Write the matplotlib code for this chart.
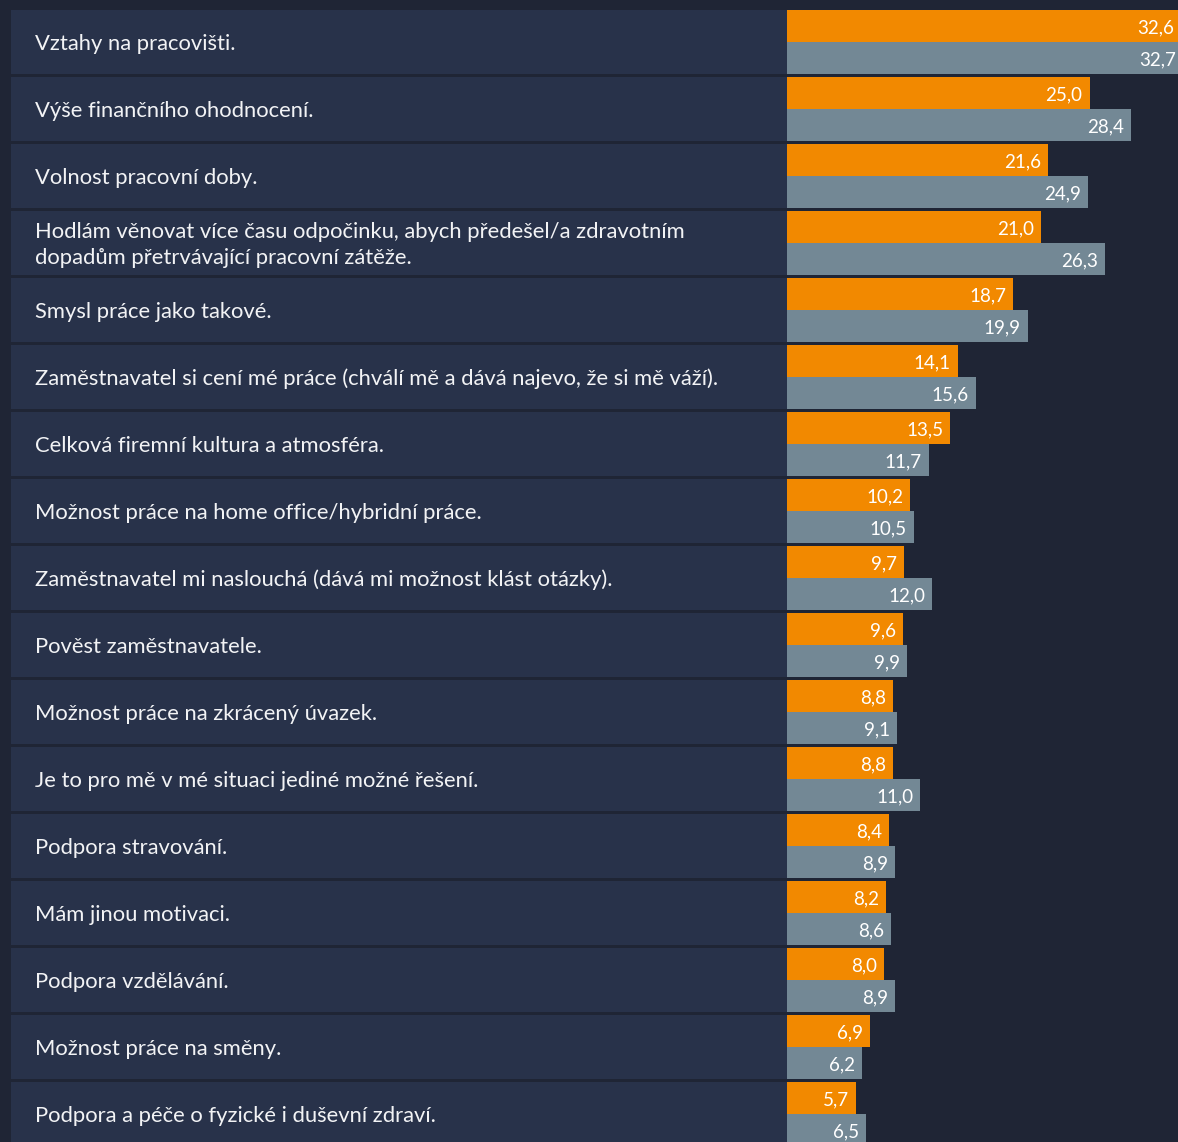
import matplotlib
matplotlib.use("Agg")
import matplotlib.pyplot as plt
import numpy as np

# ---------------------------------------------------------
# data
# ---------------------------------------------------------
categories = [
    "Vztahy na pracovišti.",
    "Výše finančního ohodnocení.",
    "Volnost pracovní doby.",
    "Hodlám věnovat více času odpočinku, abych předešel/a zdravotním\ndopadům přetrvávající pracovní zátěže.",
    "Smysl práce jako takové.",
    "Zaměstnavatel si cení mé práce (chválí mě a dává najevo, že si mě váží).",
    "Celková firemní kultura a atmosféra.",
    "Možnost práce na home office/hybridní práce.",
    "Zaměstnavatel mi naslouchá (dává mi možnost klást otázky).",
    "Pověst zaměstnavatele.",
    "Možnost práce na zkrácený úvazek.",
    "Je to pro mě v mé situaci jediné možné řešení.",
    "Podpora stravování.",
    "Mám jinou motivaci.",
    "Podpora vzdělávání.",
    "Možnost práce na směny.",
    "Podpora a péče o fyzické i duševní zdraví.",
]
orange_vals = [32.6, 25.0, 21.6, 21.0, 18.7, 14.1, 13.5, 10.2, 9.7, 9.6, 8.8, 8.8, 8.4, 8.2, 8.0, 6.9, 5.7]
grey_vals = [32.7, 28.4, 24.9, 26.3, 19.9, 15.6, 11.7, 10.5, 12.0, 9.9, 9.1, 11.0, 8.9, 8.6, 8.9, 6.2, 6.5]

# ---------------------------------------------------------
# style
# ---------------------------------------------------------
BG = "#1f2535"
BOX = "#28324a"
ORANGE = "#f28900"
GREY = "#738895"
TXT = "#f2f3f5"
plt.rcParams["font.family"] = ["Lato", "DejaVu Sans"]

W, H = 1178, 1142
fig = plt.figure(figsize=(W / 100, H / 100), dpi=100, facecolor=BG)

pitch = 67.0
y_top = (0 - 42) / pitch
y_bot = (H - 42) / pitch
y = np.arange(len(categories))
dy = 2 / pitch  # small downward nudge for text

# left panel with category boxes
x_box0, x_box1 = 11, 787
ax_l = fig.add_axes([x_box0 / W, 0, (x_box1 - x_box0) / W, 1])
ax_l.set_facecolor(BG)
ax_l.barh(y, 1, left=0, height=64 / pitch, color=BOX)
ax_l.set_xlim(0, 1)
ax_l.set_ylim(y_bot, y_top)
for i, c in enumerate(categories):
    ax_l.text((35 - x_box0) / (x_box1 - x_box0), i + dy, c, color=TXT, fontsize=15.8,
              va="center", ha="left", linespacing=1.38)
ax_l.axis("off")

# right panel with bars
scale = 12.1  # px per percent
ax_r = fig.add_axes([x_box1 / W, 0, (W - x_box1) / W, 1])
ax_r.set_facecolor(BG)
bh = 32 / pitch
ax_r.barh(y - bh / 2, orange_vals, height=bh, color=ORANGE)
ax_r.barh(y + bh / 2, grey_vals, height=bh, color=GREY)
ax_r.set_xlim(0, (W - x_box1) / scale)
ax_r.set_ylim(y_bot, y_top)
pad = 7 / scale
for i in range(len(categories)):
    ax_r.text(orange_vals[i] - pad, i - bh / 2 + dy, f"{orange_vals[i]:.1f}".replace(".", ","),
              color="white", fontsize=13.5, va="center", ha="right", clip_on=False)
    ax_r.text(grey_vals[i] - pad, i + bh / 2 + dy, f"{grey_vals[i]:.1f}".replace(".", ","),
              color="white", fontsize=13.5, va="center", ha="right", clip_on=False)
ax_r.axis("off")

fig.savefig("out.png", dpi=100, facecolor=BG)
